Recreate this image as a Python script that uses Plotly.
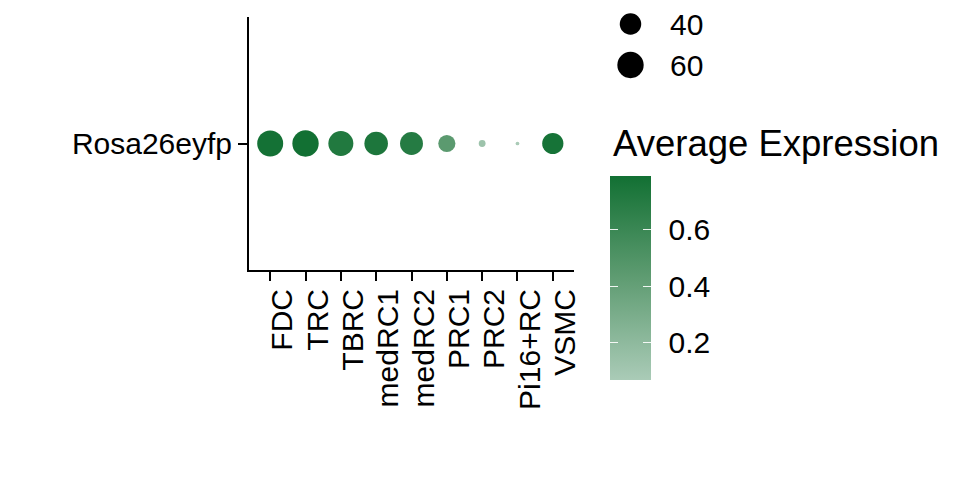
import plotly.graph_objects as go

# ---- data ----
cell_types = ["FDC", "TRC", "TBRC", "medRC1", "medRC2", "PRC1", "PRC2", "Pi16+RC", "VSMC"]
genes = ["Rosa26eyfp"]
pct_expressed = [58.5, 60.0, 54.0, 48.0, 45.5, 25.5, 4.0, 1.2, 39.0]
avg_expression = [0.78, 0.791, 0.72, 0.74, 0.70, 0.45, 0.13, 0.069, 0.77]
size_breaks = [40, 60]
color_ticks = [0.2, 0.4, 0.6]

# page body has an 8px margin, so the figure is laid out in page pixels minus 8
OFF = 8
W, H = 960 - OFF, 480 - OFF
FONT = "Liberation Sans, Arial, sans-serif"
TICK_SIZE = 30
TITLE_SIZE = 36.5
SIZEREF = 0.173
colorscale = [[0.0, "#aacbb7"], [0.5, "#5f9c72"], [1.0, "#127033"]]


def px_x(p):
    return (p - OFF) / W


def px_y(p):
    return 1 - (p - OFF) / H


CB_TOP, CB_LEN = 176, 204
CB_LEFT, CB_RIGHT = 610, 651
X_LEFT, X_RIGHT = 249, 574
X_RANGE = [-0.6, len(cell_types) - 0.4]
# rotated labels sit just right of their tick (ggplot vjust=1), ~12.5 px
LABEL_SHIFT = 12.5 * (X_RANGE[1] - X_RANGE[0]) / (X_RIGHT - X_LEFT)

fig = go.Figure()

# main dots + colorbar with labels
fig.add_trace(go.Scatter(
    x=cell_types,
    y=[genes[0]] * len(cell_types),
    mode="markers",
    marker=dict(
        size=pct_expressed,
        sizemode="area",
        sizeref=SIZEREF,
        color=avg_expression,
        colorscale=colorscale,
        opacity=1,
        line=dict(width=0),
        showscale=True,
        colorbar=dict(
            x=px_x(CB_LEFT), xanchor="left",
            y=px_y(CB_TOP), yanchor="top",
            lenmode="pixels", len=CB_LEN,
            thickness=CB_RIGHT - CB_LEFT,
            xpad=0, ypad=0,
            outlinewidth=0,
            tickvals=color_ticks,
            ticktext=[f"{v:.1f}" for v in color_ticks],
            ticks="outside", tickcolor="rgba(0,0,0,0)", ticklen=12, tickwidth=1,
            tickfont=dict(family=FONT, size=TICK_SIZE, color="black"),
        ),
    ),
    showlegend=False,
    hoverinfo="x+y",
))

# thin overlay colorbars that only provide the white tick marks on both edges
for left in (CB_LEFT, CB_RIGHT - 8):
    fig.add_trace(go.Scatter(
        x=cell_types,
        y=[genes[0]] * len(cell_types),
        mode="markers",
        marker=dict(
            size=0,
            color=avg_expression,
            colorscale=colorscale,
            opacity=0,
            showscale=True,
            colorbar=dict(
                x=px_x(left), xanchor="left",
                y=px_y(CB_TOP), yanchor="top",
                lenmode="pixels", len=CB_LEN,
                thickness=8,
                xpad=0, ypad=0,
                outlinewidth=0,
                tickvals=color_ticks,
                showticklabels=False,
                ticks="inside", tickcolor="rgba(255,255,255,0.9)", ticklen=8, tickwidth=1,
            ),
        ),
        showlegend=False,
        hoverinfo="skip",
    ))

# invisible trace carrying the categories for the label-only x axis
fig.add_trace(go.Scatter(
    x=cell_types,
    y=[genes[0]] * len(cell_types),
    mode="markers",
    marker=dict(size=1, opacity=0),
    xaxis="x3", yaxis="y",
    showlegend=False,
    hoverinfo="skip",
))

# size legend (drawn on its own small axes)
fig.add_trace(go.Scatter(
    x=[0] * len(size_breaks),
    y=[str(b) for b in size_breaks],
    mode="markers",
    marker=dict(size=size_breaks, sizemode="area", sizeref=SIZEREF, color="black",
                opacity=1, line=dict(width=0)),
    xaxis="x2", yaxis="y2",
    showlegend=False,
    hoverinfo="skip",
))

fig.update_layout(
    width=W, height=H,
    margin=dict(l=0, r=0, t=0, b=0),
    paper_bgcolor="white",
    plot_bgcolor="white",
    font=dict(family=FONT, size=TICK_SIZE, color="black"),
    xaxis=dict(
        domain=[px_x(X_LEFT), px_x(X_RIGHT)],
        type="category",
        categoryorder="array", categoryarray=cell_types,
        range=X_RANGE,
        tickmode="array", tickvals=cell_types,
        showticklabels=False,
        showgrid=False, zeroline=False,
        showline=True, linecolor="black", linewidth=2,
        ticks="outside", ticklen=9, tickwidth=2, tickcolor="black",
        automargin=False,
    ),
    xaxis3=dict(
        domain=[px_x(X_LEFT), px_x(X_RIGHT)],
        overlaying="x", anchor="y", side="bottom",
        type="category",
        categoryorder="array", categoryarray=cell_types,
        range=[X_RANGE[0] - LABEL_SHIFT, X_RANGE[1] - LABEL_SHIFT],
        tickmode="array", tickvals=cell_types, ticktext=cell_types,
        showgrid=False, zeroline=False, showline=False,
        ticks="", ticklabelstandoff=12,
        tickangle=-90,
        tickfont=dict(family=FONT, size=TICK_SIZE, color="black"),
        automargin=False,
    ),
    yaxis=dict(
        domain=[px_y(270), px_y(17)],
        type="category",
        range=[-0.6, 0.6],
        showgrid=False, zeroline=False,
        showline=True, linecolor="black", linewidth=2,
        ticks="outside", ticklen=9, tickwidth=2, tickcolor="black",
        tickfont=dict(family=FONT, size=TICK_SIZE, color="black"),
        automargin=False,
    ),
    xaxis2=dict(
        domain=[px_x(610), px_x(651)],
        range=[-1, 1], anchor="y2",
        visible=False,
    ),
    yaxis2=dict(
        domain=[px_y(85.5), px_y(8)],
        type="category",
        categoryorder="array", categoryarray=[str(b) for b in size_breaks],
        range=[1.5, -0.5 + (8 - 3.5) / 41],
        anchor="x2", side="right",
        showgrid=False, zeroline=False, showline=False,
        ticks="", ticklabelstandoff=18,
        tickfont=dict(family=FONT, size=TICK_SIZE, color="black"),
        automargin=False,
    ),
    annotations=[dict(
        text="Average Expression",
        xref="paper", yref="paper",
        x=px_x(611), xanchor="left",
        y=px_y(143), yanchor="middle",
        showarrow=False,
        font=dict(family=FONT, size=TITLE_SIZE, color="black"),
    )],
)

fig.write_html("out.html")
